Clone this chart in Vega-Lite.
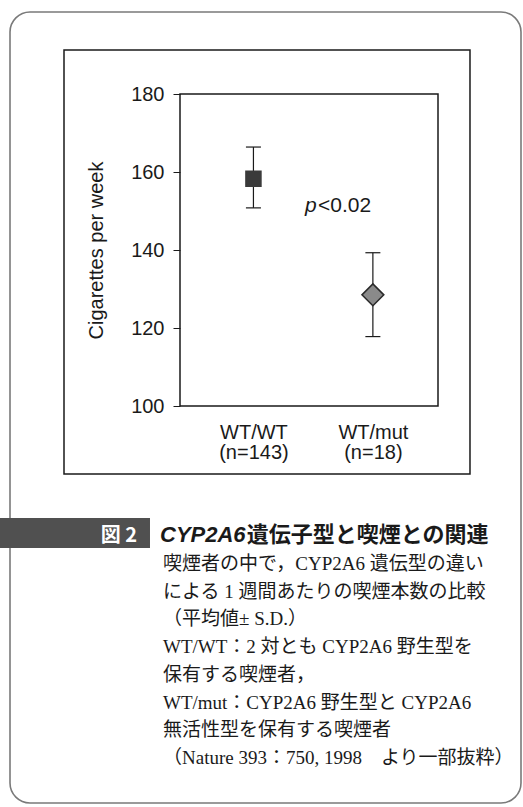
{
  "$schema": "https://vega.github.io/schema/vega-lite/v6.json",
  "width": 258,
  "height": 312,
  "autosize": {"type": "none"},
  "padding": {"left": 180, "top": 94, "right": 85, "bottom": 401},
  "background": "white",
  "config": {
    "view": {"stroke": "#1a1a1a", "strokeWidth": 1.5},
    "font": "Liberation Sans"
  },
  "resolve": {
    "scale": {"x": "independent", "y": "independent"},
    "axis": {"x": "independent", "y": "independent"}
  },
  "layer": [
    {
      "data": {"values": [{}]},
      "layer": [
        {
          "mark": {"type": "rect", "fill": "white", "fillOpacity": 0, "stroke": "#7a7a7a", "strokeWidth": 1.6, "cornerRadius": 20},
          "encoding": {
            "x": {"datum": -0.6589, "type": "quantitative", "scale": {"domain": [0, 1], "nice": false, "zero": false}, "axis": null},
            "x2": {"datum": 1.3217},
            "y": {"datum": 201.03, "type": "quantitative", "scale": {"domain": [100, 180], "nice": false, "zero": false}, "axis": null},
            "y2": {"datum": -1.79}
          }
        },
        {
          "mark": {"type": "rect", "fill": "white", "fillOpacity": 0, "stroke": "#1a1a1a", "strokeWidth": 1.5},
          "encoding": {
            "x": {"datum": -0.4496, "type": "quantitative"},
            "x2": {"datum": 1.124},
            "y": {"datum": 191.28, "type": "quantitative"},
            "y2": {"datum": 82.56}
          }
        },
        {
          "mark": {"type": "rect", "fill": "#505050"},
          "encoding": {
            "x": {"datum": -0.75, "type": "quantitative"},
            "x2": {"datum": -0.1163},
            "y": {"datum": 71.28, "type": "quantitative"},
            "y2": {"datum": 63.59}
          }
        },
        {
          "mark": {"type": "text", "align": "right", "baseline": "alphabetic", "fontSize": 20, "fontWeight": "bold", "font": "Noto Sans CJK JP", "fill": "white"},
          "encoding": {
            "x": {"datum": -0.1667, "type": "quantitative"},
            "y": {"datum": 65.13, "type": "quantitative"},
            "text": {"value": "図 2"}
          }
        },
        {
          "mark": {"type": "text", "align": "left", "baseline": "alphabetic", "fontSize": 22, "fontWeight": "bold", "fontStyle": "italic", "font": "Liberation Sans", "fill": "#1a1a1a"},
          "encoding": {
            "x": {"datum": -0.0775, "type": "quantitative"},
            "y": {"datum": 65.2, "type": "quantitative"},
            "text": {"value": "CYP2A6"}
          }
        },
        {
          "mark": {"type": "text", "align": "left", "baseline": "alphabetic", "fontSize": 22, "fontWeight": "bold", "font": "Noto Sans CJK JP", "fill": "#1a1a1a"},
          "encoding": {
            "x": {"datum": 0.2585, "type": "quantitative"},
            "y": {"datum": 65.2, "type": "quantitative"},
            "text": {"value": "遺伝子型と喫煙との関連"}
          }
        },
        {
          "mark": {"type": "text", "align": "left", "baseline": "top", "fontSize": 19, "lineHeight": 27.7, "font": "'Liberation Serif', 'Noto Sans CJK JP'", "fill": "#1a1a1a"},
          "encoding": {
            "x": {"datum": -0.0659, "type": "quantitative"},
            "y": {"datum": 61.79, "type": "quantitative"},
            "text": {"value": [
              "喫煙者の中で，CYP2A6 遺伝型の違い",
              "による 1 週間あたりの喫煙本数の比較",
              "（平均値± S.D.）",
              "WT/WT：2 対とも CYP2A6 野生型を",
              "保有する喫煙者，",
              "WT/mut：CYP2A6 野生型と CYP2A6",
              "無活性型を保有する喫煙者",
              "（Nature 393：750, 1998　より一部抜粋）"
            ]}
          }
        },
        {
          "mark": {"type": "text", "align": "right", "baseline": "alphabetic", "fontSize": 21, "fontStyle": "italic", "font": "Liberation Sans", "fill": "#1a1a1a"},
          "encoding": {
            "x": {"datum": 0.5298, "type": "quantitative"},
            "y": {"datum": 149.82, "type": "quantitative"},
            "text": {"value": "p"}
          }
        },
        {
          "mark": {"type": "text", "align": "left", "baseline": "alphabetic", "fontSize": 21, "font": "Liberation Sans", "fill": "#1a1a1a"},
          "encoding": {
            "x": {"datum": 0.5349, "type": "quantitative"},
            "y": {"datum": 149.82, "type": "quantitative"},
            "text": {"value": "<0.02"}
          }
        }
      ]
    },
    {
      "data": {"values": [
        {"group": "WT/WT", "label": "WT/WT\n(n=143)", "mean": 158.3, "lower": 150.8, "upper": 166.4},
        {"group": "WT/mut", "label": "WT/mut\n(n=18)", "mean": 128.5, "lower": 117.8, "upper": 139.3}
      ]},
      "encoding": {
        "x": {
          "field": "label", "type": "nominal", "sort": null,
          "scale": {"type": "point", "padding": 0.58, "align": 0.53},
          "axis": {
            "orient": "bottom",
            "title": null, "ticks": false, "domain": false, "grid": false,
            "labelExpr": "split(datum.label, '\\n')",
            "labelAngle": 0, "labelFontSize": 20, "labelLineHeight": 20,
            "labelPadding": 16, "labelColor": "#1a1a1a", "labelFont": "Liberation Sans"
          }
        }
      },
      "layer": [
        {
          "mark": {"type": "rule", "color": "#1a1a1a", "strokeWidth": 1.2},
          "encoding": {
            "y": {
              "field": "lower", "type": "quantitative", "title": "Cigarettes per week",
              "scale": {"domain": [100, 180], "nice": false, "zero": false},
              "axis": {
                "orient": "left",
                "values": [100, 120, 140, 160, 180], "tickSize": 7, "tickWidth": 1, "tickColor": "#1a1a1a",
                "domain": false, "grid": false, "labelFontSize": 20, "labelPadding": 9, "labelColor": "#1a1a1a",
                "labelFont": "Liberation Sans", "titleFont": "Liberation Sans", "titleFontSize": 20,
                "titleFontWeight": "normal", "titleColor": "#1a1a1a", "titlePadding": 24
              }
            },
            "y2": {"field": "upper"}
          }
        },
        {
          "mark": {"type": "tick", "orient": "horizontal", "size": 15, "thickness": 1.2, "color": "#1a1a1a", "opacity": 1},
          "encoding": {
            "y": {"field": "lower", "type": "quantitative", "title": "Cigarettes per week", "scale": {"domain": [100, 180], "nice": false, "zero": false}}
          }
        },
        {
          "mark": {"type": "tick", "orient": "horizontal", "size": 15, "thickness": 1.2, "color": "#1a1a1a", "opacity": 1},
          "encoding": {
            "y": {"field": "upper", "type": "quantitative", "title": "Cigarettes per week", "scale": {"domain": [100, 180], "nice": false, "zero": false}}
          }
        },
        {
          "mark": {"type": "point", "filled": true, "opacity": 1, "strokeWidth": 1.5},
          "encoding": {
            "y": {"field": "mean", "type": "quantitative", "title": "Cigarettes per week", "scale": {"domain": [100, 180], "nice": false, "zero": false}},
            "shape": {"field": "group", "type": "nominal", "scale": {"domain": ["WT/WT", "WT/mut"], "range": ["square", "diamond"]}, "legend": null},
            "fill": {"field": "group", "type": "nominal", "scale": {"domain": ["WT/WT", "WT/mut"], "range": ["#3a3a3a", "#8a8a8a"]}, "legend": null},
            "stroke": {"field": "group", "type": "nominal", "scale": {"domain": ["WT/WT", "WT/mut"], "range": ["#3a3a3a", "#2a2a2a"]}, "legend": null},
            "size": {"field": "group", "type": "ordinal", "scale": {"domain": ["WT/WT", "WT/mut"], "range": [225, 480]}, "legend": null}
          }
        }
      ]
    }
  ]
}
